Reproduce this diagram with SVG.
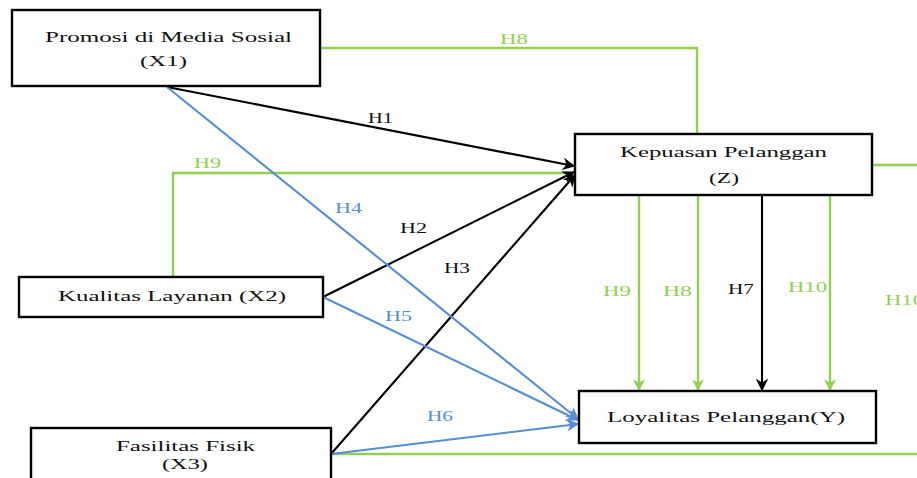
<svg xmlns="http://www.w3.org/2000/svg" width="917" height="478" viewBox="0 0 917 478">
<style>
.box{fill:#fff;stroke:#000;stroke-width:2.4}
.t{font-family:"Liberation Serif","Times New Roman",serif;font-size:15.5px;fill:#111}
.lb{font-family:"Liberation Serif","Times New Roman",serif;font-size:14.5px}
.g{fill:#92d050}.b{fill:#558ed5}.k{fill:#111}
.lg{stroke:#92d050;stroke-width:2.4;fill:none}
.lbk{stroke:#000;stroke-width:2.1;fill:none}
.lbl{stroke:#558ed5;stroke-width:2.1;fill:none}
</style>
<defs>
<marker id="ak" viewBox="0 0 10 10" refX="9" refY="5" markerWidth="6" markerHeight="6" orient="auto" markerUnits="strokeWidth"><path d="M0,0 L10,5 L0,10 L3,5 z" fill="#000"/></marker>
<marker id="ab" viewBox="0 0 10 10" refX="9" refY="5" markerWidth="6" markerHeight="6" orient="auto" markerUnits="strokeWidth"><path d="M0,0 L10,5 L0,10 L3,5 z" fill="#558ed5"/></marker>
<marker id="ag" viewBox="0 0 10 10" refX="9" refY="5" markerWidth="5" markerHeight="5" orient="auto" markerUnits="strokeWidth"><path d="M0,0 L10,5 L0,10 L3,5 z" fill="#92d050"/></marker>
</defs>
<rect width="917" height="478" fill="#fff"/>
<g id="connectors">
<polyline class="lg" points="320,48 697,48 697,134"/>
<polyline class="lg" points="173,279 173,173 575,173"/>
<line class="lg" x1="872" y1="165" x2="917" y2="165"/>
<line class="lg" x1="331" y1="454" x2="917" y2="454"/>
<line class="lbk" x1="167" y1="87" x2="574" y2="166" marker-end="url(#ak)"/>
<line class="lbk" x1="323" y1="297" x2="574" y2="172" marker-end="url(#ak)"/>
<line class="lbk" x1="331" y1="454" x2="575" y2="175" marker-end="url(#ak)"/>
<line class="lbl" x1="167" y1="87" x2="578" y2="419" marker-end="url(#ab)"/>
<line class="lbl" x1="323" y1="297" x2="578" y2="420" marker-end="url(#ab)"/>
<line class="lbl" x1="331" y1="454" x2="578" y2="424" marker-end="url(#ab)"/>
<line class="lg" x1="639" y1="195" x2="639" y2="390" stroke-width="2.8" marker-end="url(#ag)"/>
<line class="lg" x1="698" y1="195" x2="698" y2="390" stroke-width="2.8" marker-end="url(#ag)"/>
<line class="lbk" x1="762" y1="195" x2="762" y2="390" stroke-width="2.8" marker-end="url(#ak)"/>
<line class="lg" x1="830" y1="195" x2="830" y2="390" stroke-width="2.8" marker-end="url(#ag)"/>
<text class="lb g" x="500" y="44" textLength="28" lengthAdjust="spacingAndGlyphs">H8</text>
<text class="lb g" x="194" y="168" textLength="27" lengthAdjust="spacingAndGlyphs">H9</text>
<text class="lb k" x="368" y="123" textLength="25" lengthAdjust="spacingAndGlyphs">H1</text>
<text class="lb b" x="335" y="213" textLength="27" lengthAdjust="spacingAndGlyphs">H4</text>
<text class="lb k" x="400" y="233" textLength="27" lengthAdjust="spacingAndGlyphs">H2</text>
<text class="lb k" x="444" y="273" textLength="26" lengthAdjust="spacingAndGlyphs">H3</text>
<text class="lb b" x="385" y="321" textLength="27" lengthAdjust="spacingAndGlyphs">H5</text>
<text class="lb b" x="427" y="421" textLength="26" lengthAdjust="spacingAndGlyphs">H6</text>
<text class="lb g" x="603" y="296" textLength="28" lengthAdjust="spacingAndGlyphs">H9</text>
<text class="lb g" x="663" y="296" textLength="29" lengthAdjust="spacingAndGlyphs">H8</text>
<text class="lb k" x="728" y="294" textLength="26" lengthAdjust="spacingAndGlyphs">H7</text>
<text class="lb g" x="788" y="292" textLength="39" lengthAdjust="spacingAndGlyphs">H10</text>
<text class="lb g" x="885" y="305" textLength="39" lengthAdjust="spacingAndGlyphs">H10</text>
</g>
<g id="X1">
<rect class="box" x="12" y="10" width="308" height="76"/>
<text class="t" x="45" y="42" textLength="247" lengthAdjust="spacingAndGlyphs">Promosi di Media Sosial</text>
<text class="t" x="140" y="66" textLength="47" lengthAdjust="spacingAndGlyphs">(X1)</text>
</g>
<g id="Z">
<rect class="box" x="575" y="134" width="297" height="61"/>
<text class="t" x="620" y="157" textLength="207" lengthAdjust="spacingAndGlyphs">Kepuasan Pelanggan</text>
<text class="t" x="709" y="183" textLength="30" lengthAdjust="spacingAndGlyphs">(Z)</text>
</g>
<g id="X2">
<rect class="box" x="19" y="277" width="304" height="40"/>
<text class="t" x="58" y="301" textLength="228" lengthAdjust="spacingAndGlyphs">Kualitas Layanan (X2)</text>
</g>
<g id="X3">
<rect class="box" x="31" y="428" width="300" height="60"/>
<text class="t" x="116" y="451" textLength="139" lengthAdjust="spacingAndGlyphs">Fasilitas Fisik</text>
<text class="t" x="162" y="469" textLength="46" lengthAdjust="spacingAndGlyphs">(X3)</text>
</g>
<g id="Y">
<rect class="box" x="579" y="391" width="297" height="52"/>
<text class="t" x="607" y="422" textLength="238" lengthAdjust="spacingAndGlyphs">Loyalitas Pelanggan(Y)</text>
</g>
</svg>
